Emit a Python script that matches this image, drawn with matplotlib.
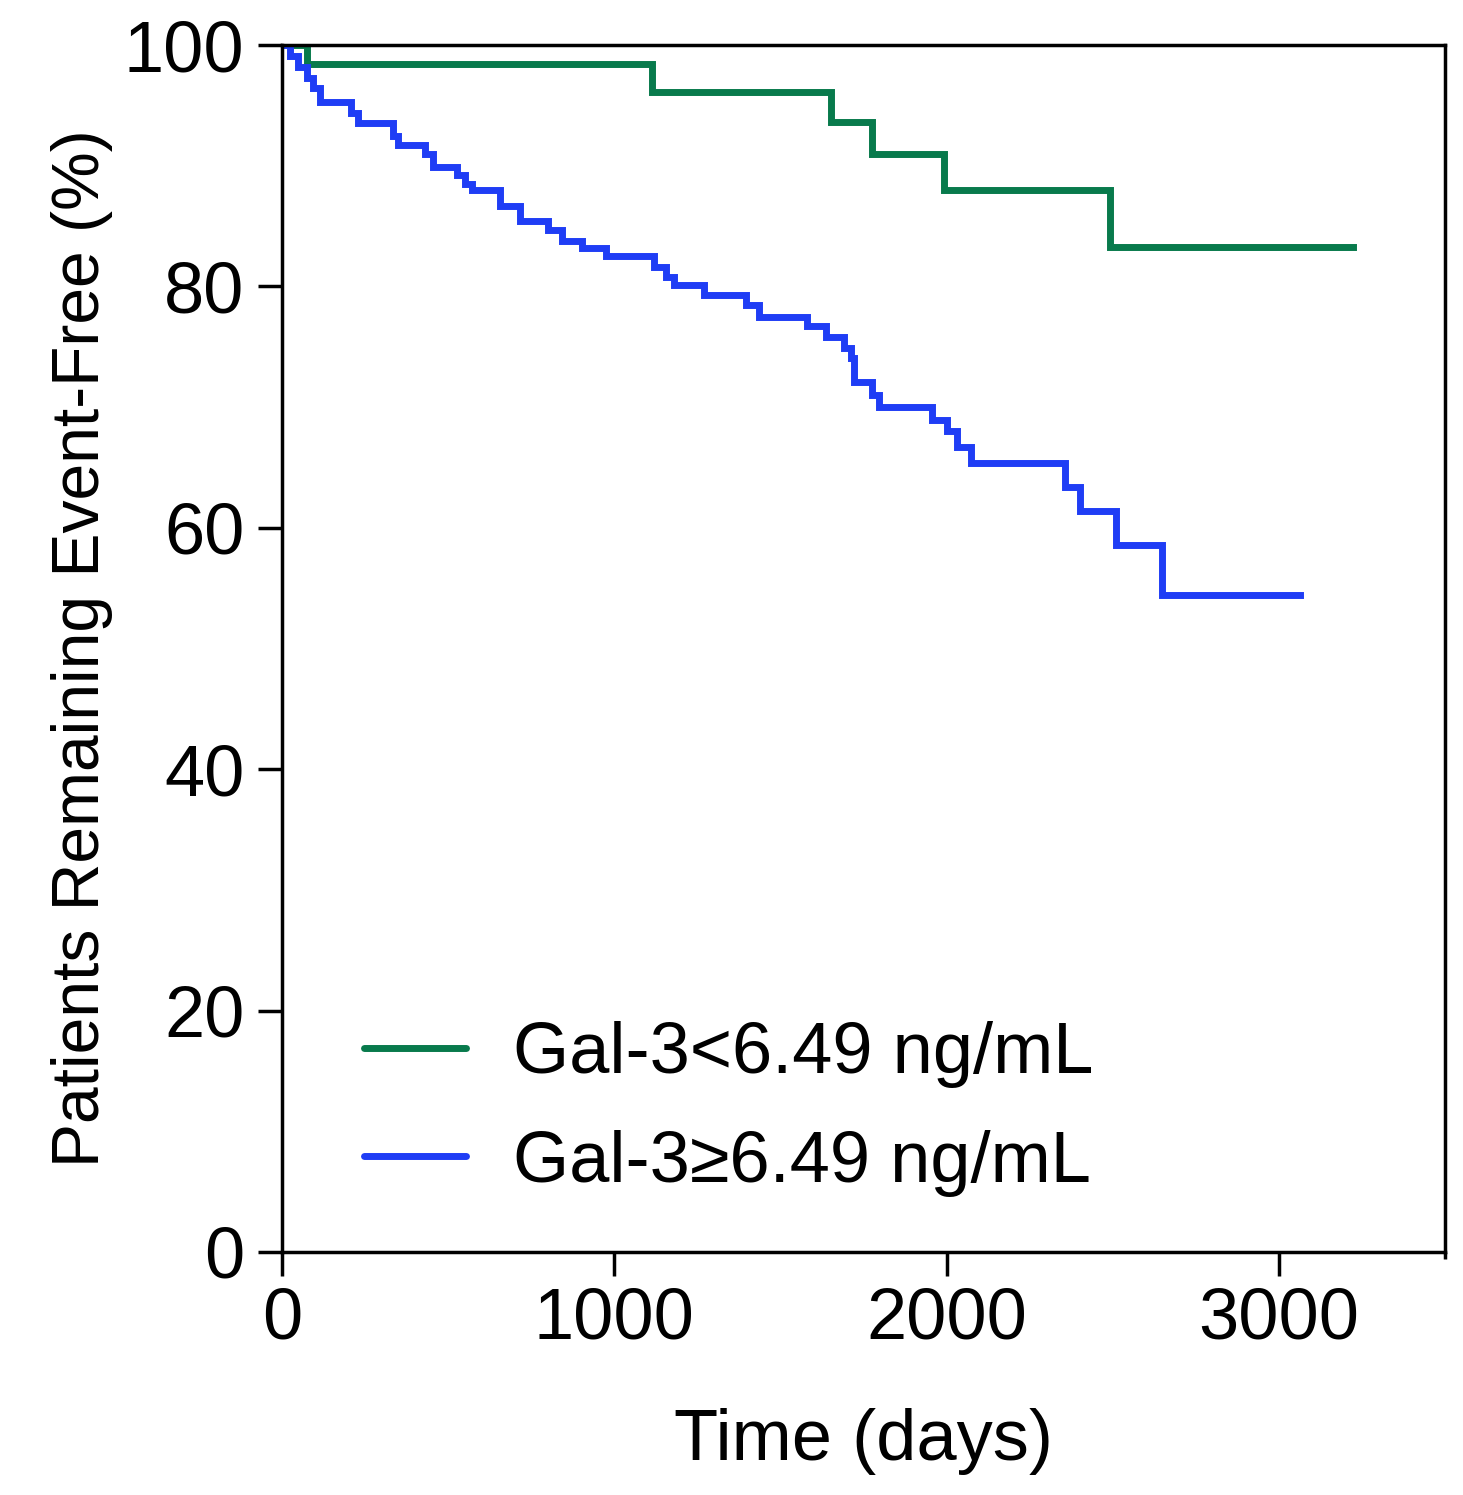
import matplotlib
matplotlib.use("Agg")
import matplotlib.pyplot as plt
from matplotlib.ticker import FixedLocator

plt.rcParams['font.family'] = ['Liberation Sans', 'DejaVu Sans']

# Data
green_label = "Gal-3<6.49 ng/mL"
green_times = [0, 75, 1112, 1652, 1775, 1991, 2492]
green_surv = [100, 98.4, 96.1, 93.6, 91.0, 88.0, 83.3]
green_end = 3222

blue_label = "Gal-3\u22656.49 ng/mL"
blue_times = [0, 24, 48, 74, 93, 114, 209, 228, 333, 350, 429, 454, 526, 551, 571,
              655, 715, 800, 844, 904, 976, 1120, 1156, 1180, 1270, 1396, 1435,
              1580, 1636, 1691, 1711, 1721, 1775, 1796, 1955, 2000, 2030, 2075,
              2357, 2402, 2511, 2649]
blue_surv = [100, 99.1, 98.2, 97.3, 96.4, 95.3, 94.4, 93.5, 92.5, 91.7, 91.0, 89.9,
             89.2, 88.5, 88.0, 86.7, 85.4, 84.7, 83.8, 83.2, 82.5, 81.6, 80.8,
             80.1, 79.3, 78.5, 77.5, 76.7, 75.8, 74.9, 74.1, 72.1, 71.0, 70.0,
             68.9, 68.0, 66.7, 65.4, 63.4, 61.4, 58.6, 54.4]
blue_end = 3063

x_ticks = [0, 1000, 2000, 3000]
y_ticks = [0, 20, 40, 60, 80, 100]

green_color = "#087a4c"
blue_color = "#1f3df5"

fig = plt.figure(figsize=(14.63, 14.95), dpi=100)
ax = fig.add_axes([282 / 1463, 1 - 1252 / 1495, (1445 - 282) / 1463, (1252 - 45) / 1495])

ax.step(green_times + [green_end], green_surv + [green_surv[-1]], where='post',
        color=green_color, lw=5, label=green_label, solid_joinstyle='miter')
ax.step(blue_times + [blue_end], blue_surv + [blue_surv[-1]], where='post',
        color=blue_color, lw=5, label=blue_label, solid_joinstyle='miter')

ax.set_xlim(0, 3500)
ax.set_ylim(0, 100)
ax.xaxis.set_major_locator(FixedLocator(x_ticks))
ax.xaxis.set_minor_locator(FixedLocator([3500]))
ax.yaxis.set_major_locator(FixedLocator(y_ticks))

for s in ax.spines.values():
    s.set_linewidth(2.5)
    s.set_color('black')

ax.tick_params(axis='both', which='major', direction='out', length=17, width=2.5,
               labelsize=52, pad=10)
ax.tick_params(axis='x', which='minor', direction='out', length=5, width=2.5)
ax.tick_params(axis='x', which='major', pad=8)

ax.set_xlabel("Time (days)", fontsize=52, labelpad=39)
ax.set_ylabel("Patients Remaining Event-Free (%)", fontsize=47.5, labelpad=8)

leg = ax.legend(loc='lower left', bbox_to_anchor=(0.0455, 0.022), frameon=False,
                fontsize=52, handlelength=1.42, handletextpad=0.65,
                labelspacing=0.575, borderaxespad=0)
for h in leg.get_lines():
    h.set_linewidth(5)
    h.set_solid_capstyle('round')

fig.savefig("out.png", dpi=100)
